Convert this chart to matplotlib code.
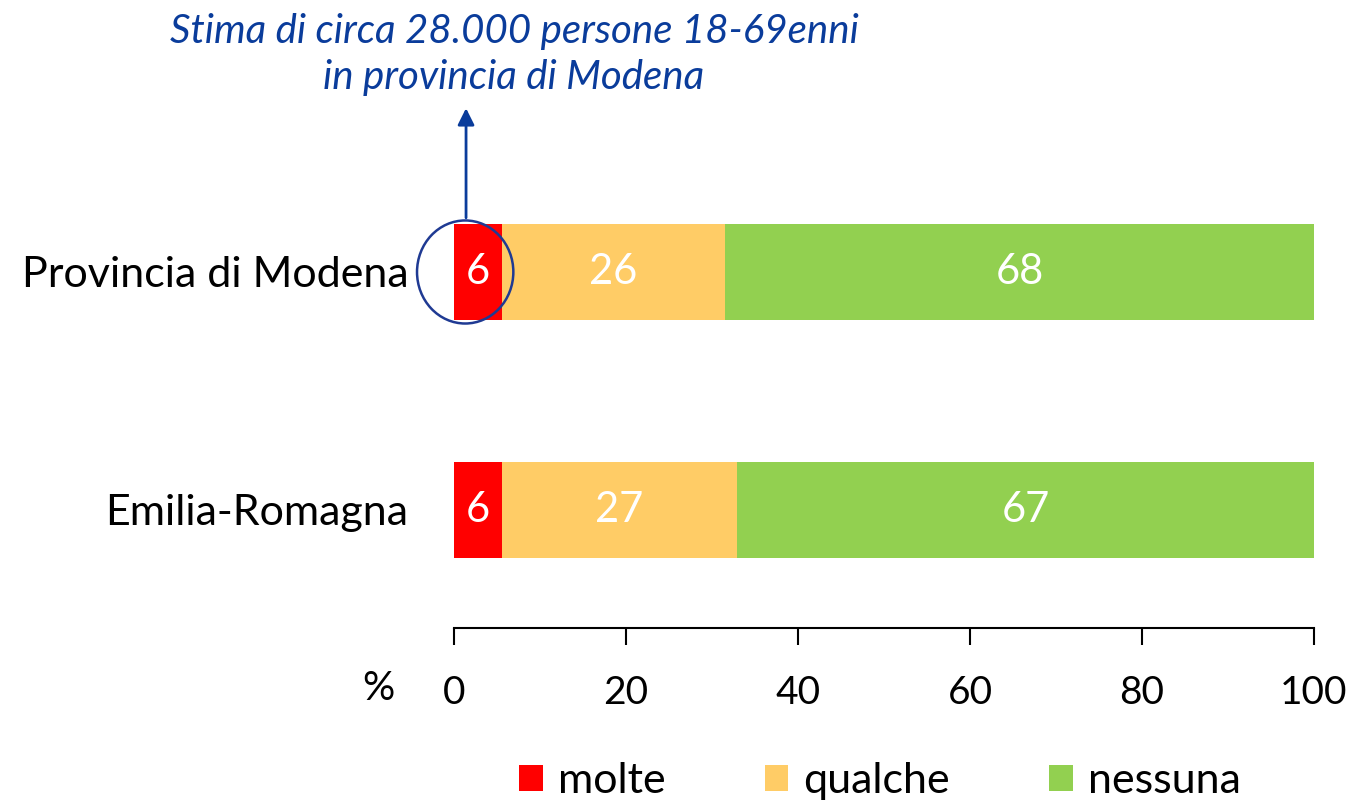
import matplotlib.pyplot as plt
from matplotlib.patches import Ellipse, Patch

plt.rcParams['font.family'] = ['Lato', 'DejaVu Sans']

# data (percent)
areas = ['Emilia-Romagna', 'Provincia di Modena']
categories = ['molte', 'qualche', 'nessuna']
molte = [5.6, 5.6]
qualche = [27.3, 25.9]
nessuna = [67.1, 68.5]
labels_molte = ['6', '6']
labels_qualche = ['27', '26']
labels_nessuna = ['67', '68']
colors = ['#FF0000', '#FFCC66', '#92D050']
note = 'Stima di circa 28.000 persone 18-69enni\nin provincia di Modena'

fig = plt.figure(figsize=(13.58, 8.06), dpi=100)
ax = fig.add_axes([454 / 1358, 1 - 628 / 806, 860 / 1358, 427.4 / 806])

ypos = [0, 1]
series = [molte, qualche, nessuna]
series_labels = [labels_molte, labels_qualche, labels_nessuna]
left = [0, 0]
for vals, labs, col in zip(series, series_labels, colors):
    bars = ax.barh(ypos, vals, left=left, height=0.403, color=col)
    for b, lab in zip(bars, labs):
        ax.text(b.get_x() + b.get_width() / 2, b.get_y() + b.get_height() / 2, lab,
                ha='center', va='center', color='white', fontsize=30)
    left = [l + v for l, v in zip(left, vals)]

ax.set_xlim(0, 100)
ax.set_ylim(-0.496, 1.3)
ax.set_xticks([0, 20, 40, 60, 80, 100])
ax.set_yticks(ypos)
ax.set_yticklabels(areas)
for s in ['top', 'right', 'left']:
    ax.spines[s].set_visible(False)
ax.spines['bottom'].set_linewidth(1.5)
ax.tick_params(axis='y', length=0, pad=33, labelsize=31)
ax.tick_params(axis='x', length=12, width=1.5, pad=22, labelsize=28)
ax.text(-8.8, -0.75, '%', fontsize=29, ha='center', va='center')

# circle + arrow on the Modena "molte" segment
ax.add_patch(Ellipse((1.3, 1.0), 11.2, 0.433, fill=False, edgecolor='#1F3A93',
                     linewidth=1.8, clip_on=False))
ax.annotate('', xy=(1.4, 1.7), xytext=(1.4, 1.216),
            arrowprops=dict(arrowstyle='-|>', color='#0A3C9B', lw=2, mutation_scale=25),
            annotation_clip=False)
fig.text(514 / 1358, 1 - 55 / 806, note, ha='center', va='center', color='#0A3C9B',
         fontsize=29, style='italic', linespacing=1.3)

handles = [Patch(facecolor=c, label=n) for c, n in zip(colors, categories)]
fig.legend(handles=handles, loc='center', bbox_to_anchor=(880 / 1358, 1 - 781 / 806),
           ncol=3, frameon=False, fontsize=31, handlelength=0.55, handleheight=0.55,
           handletextpad=0.35, columnspacing=2.3)

fig.savefig('out.png', dpi=100)
